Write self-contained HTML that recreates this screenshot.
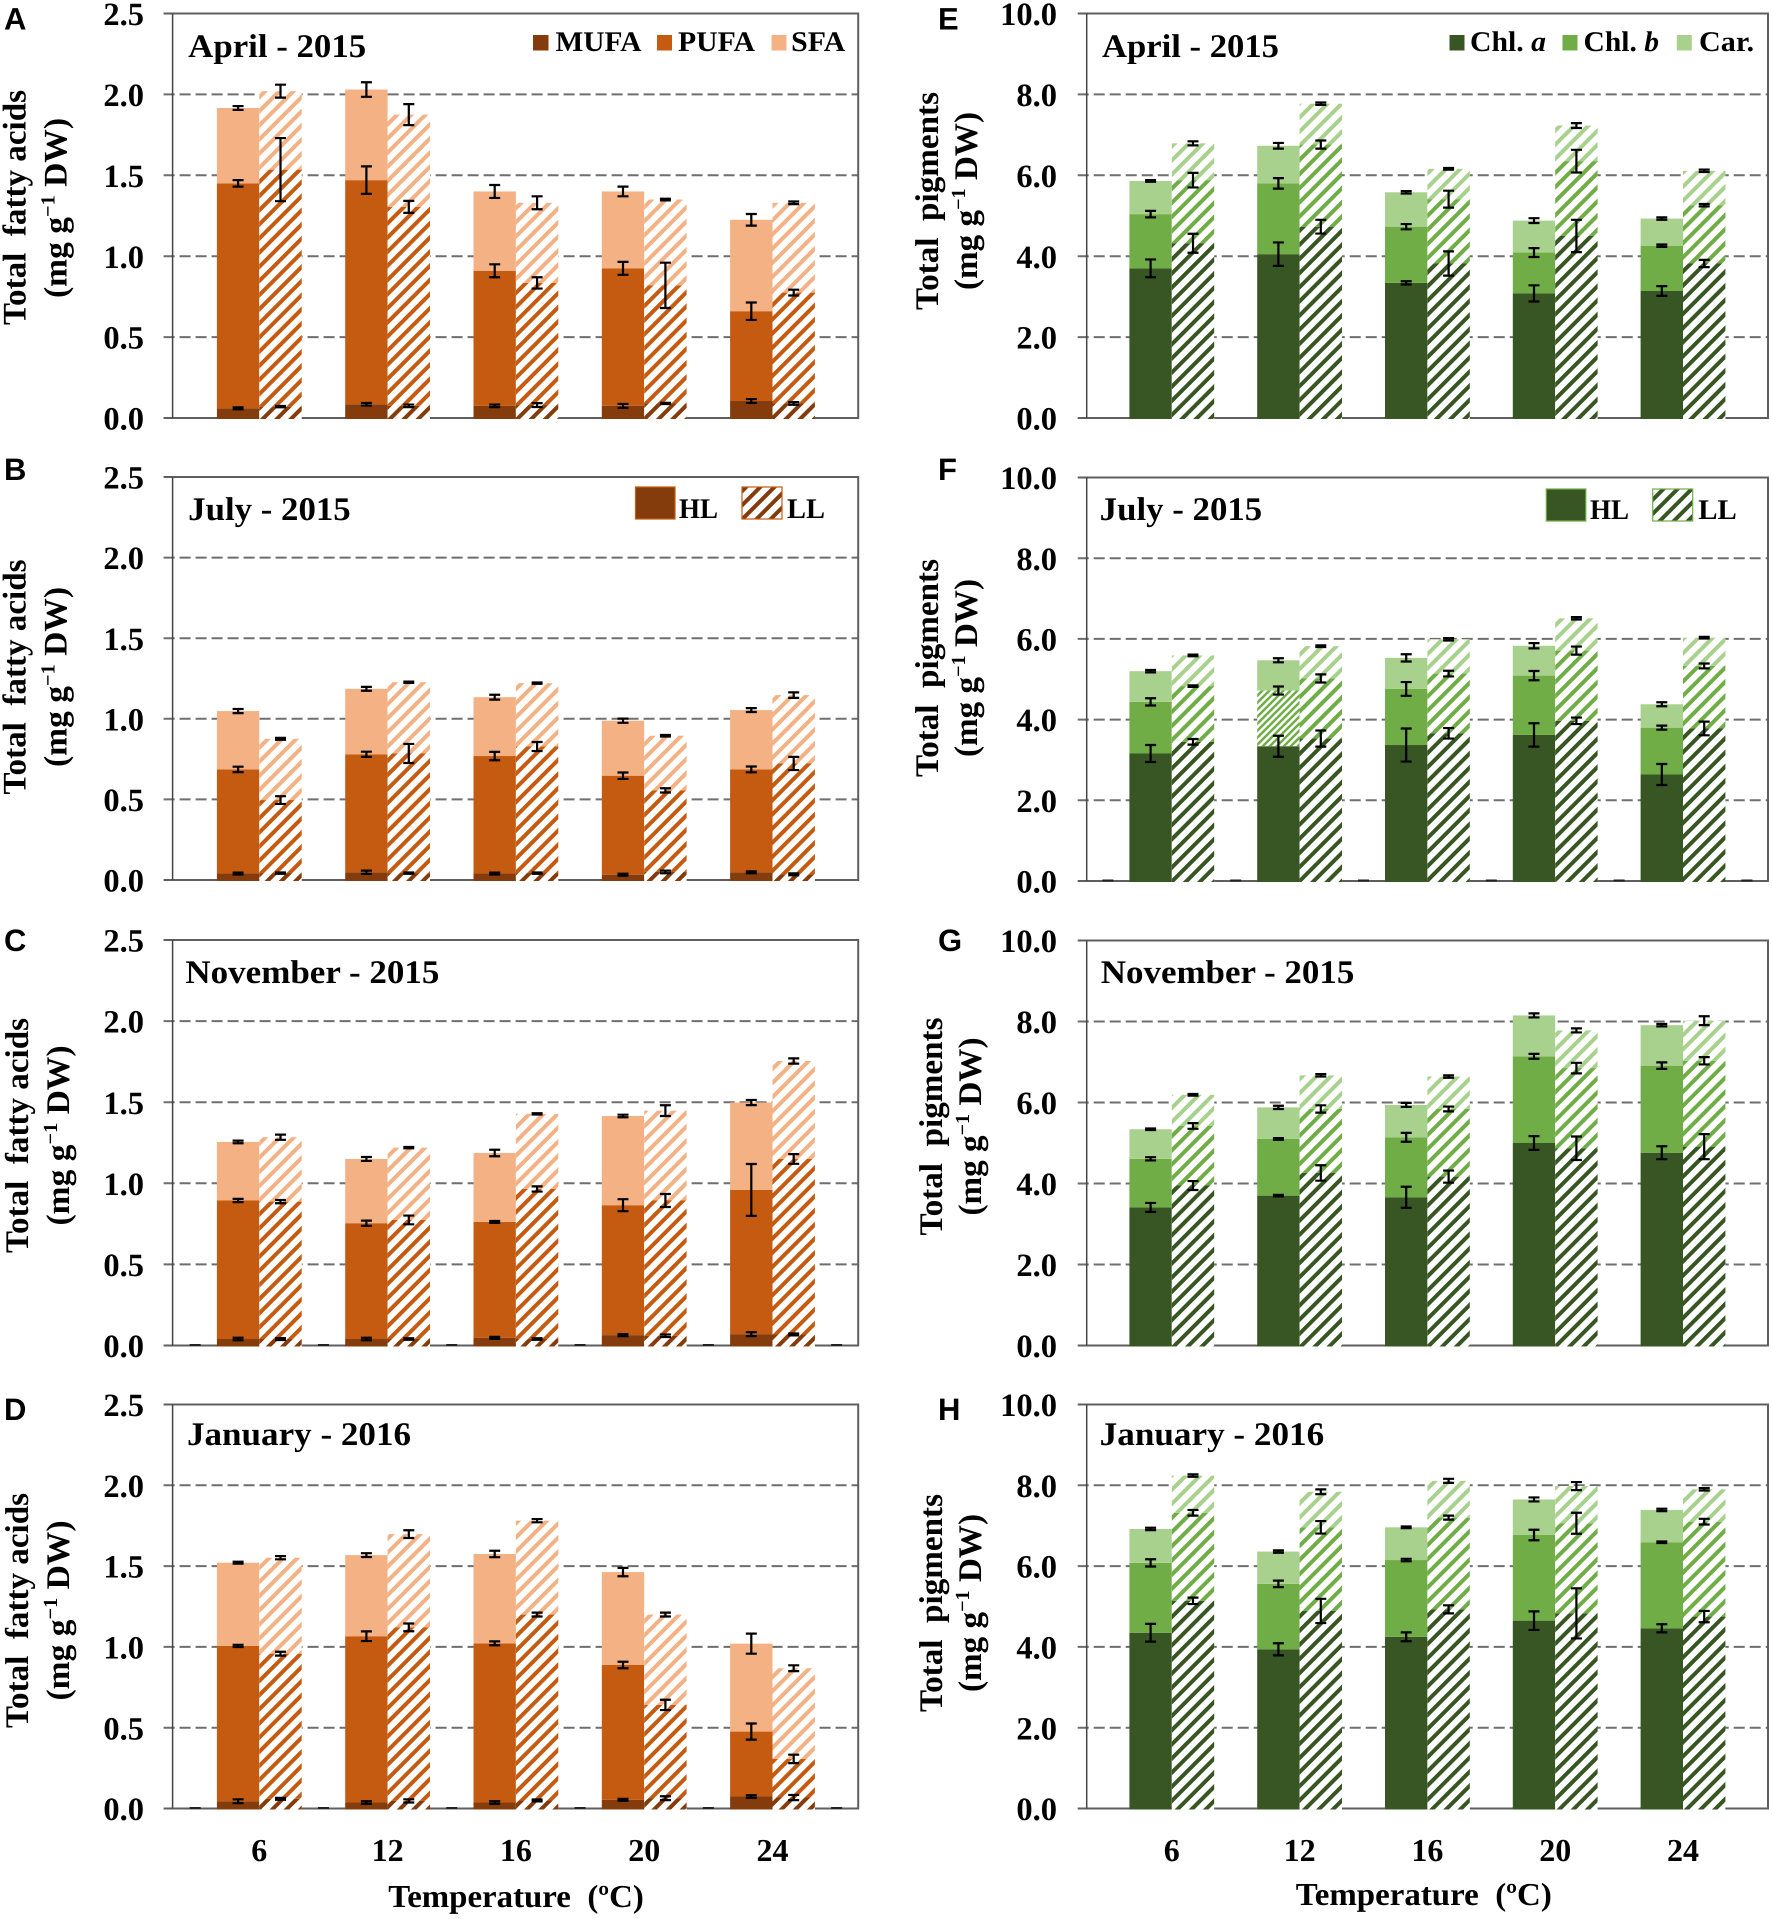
<!DOCTYPE html>
<html lang="en">
<head>
<meta charset="utf-8">
<title>Total fatty acids and pigments by temperature</title>
<style>
html,body{margin:0;padding:0;background:#fff;}
svg{display:block;}
text{font-family:"Liberation Serif",serif;font-weight:700;fill:#000;text-rendering:geometricPrecision;}
.letter{font-family:"Liberation Sans",sans-serif;font-size:31px;}
.title{font-size:33px;}
.leg{font-size:28.5px;}
.yl{font-size:33px;}
.xt{font-size:32px;}
</style>
</head>
<body>
<svg id="fig" xmlns="http://www.w3.org/2000/svg" width="1772" height="1919" viewBox="0 0 1772 1919">
<defs id="defs"></defs>

<g id="marks-a"></g>
<g id="marks-b"></g>
<g id="marks-c"></g>
<g id="marks-d"></g>
<g id="marks-e"></g>
<g id="marks-f"></g>
<g id="marks-g"></g>
<g id="marks-h"></g>

<!-- Panel letters -->
<text class="letter" x="4" y="29.5">A</text>
<text class="letter" x="4" y="480">B</text>
<text class="letter" x="4" y="951">C</text>
<text class="letter" x="4" y="1420">D</text>
<text class="letter" x="938" y="29.5">E</text>
<text class="letter" x="938" y="480">F</text>
<text class="letter" x="938" y="951">G</text>
<text class="letter" x="938" y="1420">H</text>

<!-- Panel titles -->
<text class="title" x="188.2" y="57" textLength="178" lengthAdjust="spacingAndGlyphs">April - 2015</text>
<text class="title" x="188.2" y="520" textLength="162.5" lengthAdjust="spacingAndGlyphs">July - 2015</text>
<text class="title" x="185.4" y="983" textLength="254" lengthAdjust="spacingAndGlyphs">November - 2015</text>
<text class="title" x="187" y="1445" textLength="224" lengthAdjust="spacingAndGlyphs">January - 2016</text>
<text class="title" x="1102" y="57" textLength="177" lengthAdjust="spacingAndGlyphs">April - 2015</text>
<text class="title" x="1099.7" y="520" textLength="162.5" lengthAdjust="spacingAndGlyphs">July - 2015</text>
<text class="title" x="1100.8" y="983" textLength="253.5" lengthAdjust="spacingAndGlyphs">November - 2015</text>
<text class="title" x="1099.7" y="1445" textLength="224.5" lengthAdjust="spacingAndGlyphs">January - 2016</text>

<!-- Y-axis titles, left column -->
<g>
<text class="yl" text-anchor="middle" xml:space="preserve" transform="translate(25.5,207.5) rotate(-90)" textLength="235" lengthAdjust="spacingAndGlyphs">Total  fatty acids</text>
<text class="yl" text-anchor="middle" xml:space="preserve" transform="translate(66.5,208) rotate(-90)" textLength="180" lengthAdjust="spacingAndGlyphs">(mg g<tspan font-size="20" dy="-12">−1</tspan><tspan dy="12"> DW)</tspan></text>
</g>
<g>
<text class="yl" text-anchor="middle" xml:space="preserve" transform="translate(25.5,677) rotate(-90)" textLength="235" lengthAdjust="spacingAndGlyphs">Total  fatty acids</text>
<text class="yl" text-anchor="middle" xml:space="preserve" transform="translate(66.5,677) rotate(-90)" textLength="180" lengthAdjust="spacingAndGlyphs">(mg g<tspan font-size="20" dy="-12">−1</tspan><tspan dy="12"> DW)</tspan></text>
</g>
<g>
<text class="yl" text-anchor="middle" xml:space="preserve" transform="translate(28,1135.5) rotate(-90)" textLength="235" lengthAdjust="spacingAndGlyphs">Total  fatty acids</text>
<text class="yl" text-anchor="middle" xml:space="preserve" transform="translate(69,1135.5) rotate(-90)" textLength="180" lengthAdjust="spacingAndGlyphs">(mg g<tspan font-size="20" dy="-12">−1</tspan><tspan dy="12"> DW)</tspan></text>
</g>
<g>
<text class="yl" text-anchor="middle" xml:space="preserve" transform="translate(28,1610.5) rotate(-90)" textLength="235" lengthAdjust="spacingAndGlyphs">Total  fatty acids</text>
<text class="yl" text-anchor="middle" xml:space="preserve" transform="translate(69,1610.5) rotate(-90)" textLength="180" lengthAdjust="spacingAndGlyphs">(mg g<tspan font-size="20" dy="-12">−1</tspan><tspan dy="12"> DW)</tspan></text>
</g>

<!-- Y-axis titles, right column -->
<g>
<text class="yl" text-anchor="middle" xml:space="preserve" transform="translate(938,201) rotate(-90)" textLength="218" lengthAdjust="spacingAndGlyphs">Total  pigments</text>
<text class="yl" text-anchor="middle" xml:space="preserve" transform="translate(977,201) rotate(-90)" textLength="178" lengthAdjust="spacingAndGlyphs">(mg g<tspan font-size="20" dy="-12">−1</tspan><tspan dy="12"> DW)</tspan></text>
</g>
<g>
<text class="yl" text-anchor="middle" xml:space="preserve" transform="translate(938,668) rotate(-90)" textLength="218" lengthAdjust="spacingAndGlyphs">Total  pigments</text>
<text class="yl" text-anchor="middle" xml:space="preserve" transform="translate(977,668) rotate(-90)" textLength="178" lengthAdjust="spacingAndGlyphs">(mg g<tspan font-size="20" dy="-12">−1</tspan><tspan dy="12"> DW)</tspan></text>
</g>
<g>
<text class="yl" text-anchor="middle" xml:space="preserve" transform="translate(942,1126.5) rotate(-90)" textLength="218" lengthAdjust="spacingAndGlyphs">Total  pigments</text>
<text class="yl" text-anchor="middle" xml:space="preserve" transform="translate(981,1126.5) rotate(-90)" textLength="178" lengthAdjust="spacingAndGlyphs">(mg g<tspan font-size="20" dy="-12">−1</tspan><tspan dy="12"> DW)</tspan></text>
</g>
<g>
<text class="yl" text-anchor="middle" xml:space="preserve" transform="translate(942,1603) rotate(-90)" textLength="218" lengthAdjust="spacingAndGlyphs">Total  pigments</text>
<text class="yl" text-anchor="middle" xml:space="preserve" transform="translate(981,1603) rotate(-90)" textLength="178" lengthAdjust="spacingAndGlyphs">(mg g<tspan font-size="20" dy="-12">−1</tspan><tspan dy="12"> DW)</tspan></text>
</g>

<!-- X-axis titles -->
<text class="xt" x="388.3" y="1907" xml:space="preserve" textLength="255.5" lengthAdjust="spacingAndGlyphs">Temperature  (ºC)</text>
<text class="xt" x="1295.8" y="1905" xml:space="preserve" textLength="256" lengthAdjust="spacingAndGlyphs">Temperature  (ºC)</text>

<!-- Legend, panel A -->
<g>
<rect x="533" y="35" width="15.5" height="15.5" fill="#843C0C"/>
<text class="leg" x="555.5" y="51" textLength="86" lengthAdjust="spacingAndGlyphs">MUFA</text>
<rect x="657" y="35" width="15" height="15.5" fill="#C55A11"/>
<text class="leg" x="678" y="51" textLength="77" lengthAdjust="spacingAndGlyphs">PUFA</text>
<rect x="771.5" y="35" width="15" height="15.5" fill="#F4B183"/>
<text class="leg" x="791.2" y="51" textLength="54" lengthAdjust="spacingAndGlyphs">SFA</text>
</g>

<!-- Legend, panel E -->
<g>
<rect x="1449.5" y="35" width="15" height="15.5" fill="#375623"/>
<text class="leg" x="1470" y="51" textLength="76" lengthAdjust="spacingAndGlyphs">Chl. <tspan font-style="italic">a</tspan></text>
<rect x="1562.5" y="35" width="15" height="15.5" fill="#70AD47"/>
<text class="leg" x="1583.5" y="51" textLength="75.5" lengthAdjust="spacingAndGlyphs">Chl. <tspan font-style="italic">b</tspan></text>
<rect x="1676.8" y="35" width="15" height="15.5" fill="#A9D18E"/>
<text class="leg" x="1699" y="51" textLength="55" lengthAdjust="spacingAndGlyphs">Car.</text>
</g>

<!-- Legend, panel B -->
<g>
<rect x="635.5" y="487" width="39.5" height="32" fill="#843C0C" stroke="#C55A11" stroke-width="1.2"/>
<text class="leg" x="679" y="518" textLength="39" lengthAdjust="spacingAndGlyphs">HL</text>
<rect x="742" y="487" width="40" height="32" fill="#fff"/>
<rect x="742" y="487" width="40" height="32" fill="url(#hatch-843C0C)" stroke="#C55A11" stroke-width="1.2"/>
<text class="leg" x="787" y="518" textLength="38" lengthAdjust="spacingAndGlyphs">LL</text>
</g>

<!-- Legend, panel F -->
<g>
<rect x="1546.3" y="489" width="39.5" height="32" fill="#375623" stroke="#70AD47" stroke-width="1.2"/>
<text class="leg" x="1590" y="519" textLength="39" lengthAdjust="spacingAndGlyphs">HL</text>
<rect x="1652.7" y="489" width="40" height="32" fill="#fff"/>
<rect x="1652.7" y="489" width="40" height="32" fill="url(#hatch-375623)" stroke="#70AD47" stroke-width="1.2"/>
<text class="leg" x="1698.3" y="519" textLength="38.5" lengthAdjust="spacingAndGlyphs">LL</text>
</g>
</svg>

<script>
// Shared axis labels
const CATEGORIES = ['6', '12', '16', '20', '24'];
const FA_TICKS = ['0.0', '0.5', '1.0', '1.5', '2.0', '2.5'];
const PIG_TICKS = ['0.0', '2.0', '4.0', '6.0', '8.0', '10.0'];

// Panel A: April 2015, fatty acids
const A_HL_MUFA = [0.06, 0.085, 0.075, 0.075, 0.105];
const A_HL_PUFA = [1.39, 1.385, 0.835, 0.85, 0.555];
const A_HL_SFA = [0.466, 0.56, 0.49, 0.475, 0.565];
const A_LL_MUFA = [0.07, 0.075, 0.08, 0.09, 0.09];
const A_LL_PUFA = [1.465, 1.23, 0.755, 0.73, 0.685];
const A_LL_SFA = [0.485, 0.57, 0.495, 0.53, 0.555];
const A_HL_MUFA_ERR = [0.006, 0.008, 0.008, 0.012, 0.012];
const A_HL_PUFA_ERR = [0.02, 0.085, 0.04, 0.04, 0.054];
const A_HL_SFA_ERR = [0.012, 0.045, 0.04, 0.03, 0.036];
const A_LL_MUFA_ERR = [0.004, 0.008, 0.012, 0.004, 0.008];
const A_LL_PUFA_ERR = [0.195, 0.037, 0.035, 0.14, 0.018];
const A_LL_SFA_ERR = [0.04, 0.065, 0.04, 0.005, 0.008];

// Panel B: July 2015, fatty acids
const B_HL_MUFA = [0.04, 0.048, 0.04, 0.033, 0.048];
const B_HL_PUFA = [0.646, 0.732, 0.729, 0.614, 0.638];
const B_HL_SFA = [0.362, 0.406, 0.365, 0.341, 0.368];
const B_LL_MUFA = [0.043, 0.043, 0.043, 0.05, 0.035];
const B_LL_PUFA = [0.453, 0.742, 0.785, 0.506, 0.688];
const B_LL_SFA = [0.38, 0.442, 0.393, 0.339, 0.424];
const B_HL_MUFA_ERR = [0.006, 0.01, 0.006, 0.006, 0.006];
const B_HL_PUFA_ERR = [0.017, 0.016, 0.026, 0.02, 0.018];
const B_HL_SFA_ERR = [0.013, 0.012, 0.015, 0.013, 0.012];
const B_LL_MUFA_ERR = [0.004, 0.004, 0.004, 0.008, 0.006];
const B_LL_PUFA_ERR = [0.024, 0.059, 0.028, 0.013, 0.041];
const B_LL_SFA_ERR = [0.006, 0.004, 0.004, 0.005, 0.017];

// Panel C: November 2015, fatty acids
const C_HL_MUFA = [0.04, 0.04, 0.047, 0.064, 0.07];
const C_HL_PUFA = [0.854, 0.714, 0.715, 0.801, 0.889];
const C_HL_SFA = [0.361, 0.396, 0.425, 0.55, 0.539];
const C_LL_MUFA = [0.04, 0.04, 0.04, 0.06, 0.068];
const C_LL_PUFA = [0.847, 0.734, 0.925, 0.834, 1.082];
const C_LL_SFA = [0.397, 0.446, 0.463, 0.554, 0.604];
const C_HL_MUFA_ERR = [0.008, 0.008, 0.006, 0.006, 0.012];
const C_HL_PUFA_ERR = [0.01, 0.016, 0.006, 0.037, 0.16];
const C_HL_SFA_ERR = [0.008, 0.012, 0.02, 0.008, 0.016];
const C_LL_MUFA_ERR = [0.006, 0.005, 0.005, 0.008, 0.006];
const C_LL_PUFA_ERR = [0.01, 0.027, 0.016, 0.04, 0.03];
const C_LL_SFA_ERR = [0.016, 0.004, 0.004, 0.033, 0.016];

// Panel D: January 2016, fatty acids
const D_HL_MUFA = [0.045, 0.037, 0.037, 0.054, 0.074];
const D_HL_PUFA = [0.961, 1.029, 0.985, 0.834, 0.402];
const D_HL_SFA = [0.515, 0.502, 0.553, 0.575, 0.544];
const D_LL_MUFA = [0.06, 0.047, 0.05, 0.064, 0.068];
const D_LL_PUFA = [0.898, 1.074, 1.15, 0.577, 0.239];
const D_LL_SFA = [0.594, 0.577, 0.581, 0.559, 0.561];
const D_HL_MUFA_ERR = [0.012, 0.008, 0.008, 0.006, 0.008];
const D_HL_PUFA_ERR = [0.007, 0.03, 0.012, 0.02, 0.05];
const D_HL_SFA_ERR = [0.006, 0.012, 0.02, 0.026, 0.062];
const D_LL_MUFA_ERR = [0.006, 0.01, 0.006, 0.012, 0.016];
const D_LL_PUFA_ERR = [0.012, 0.024, 0.012, 0.032, 0.026];
const D_LL_SFA_ERR = [0.01, 0.024, 0.01, 0.012, 0.018];

// Panel E: April 2015, pigments
const E_HL_CHLA = [3.70, 4.05, 3.34, 3.08, 3.14];
const E_HL_CHLB = [1.34, 1.75, 1.39, 1.01, 1.12];
const E_HL_CAR = [0.82, 0.93, 0.85, 0.79, 0.67];
const E_LL_CHLA = [4.32, 4.73, 3.82, 4.5, 3.82];
const E_LL_CHLB = [1.56, 2.03, 1.59, 1.85, 1.44];
const E_LL_CAR = [0.91, 1.01, 0.75, 0.88, 0.85];
const E_HL_CHLA_ERR = [0.22, 0.29, 0.04, 0.2, 0.12];
const E_HL_CHLB_ERR = [0.08, 0.13, 0.065, 0.11, 0.03];
const E_HL_CAR_ERR = [0.02, 0.07, 0.03, 0.06, 0.03];
const E_LL_CHLA_ERR = [0.235, 0.17, 0.3, 0.4, 0.09];
const E_LL_CHLB_ERR = [0.18, 0.1, 0.21, 0.28, 0.03];
const E_LL_CAR_ERR = [0.05, 0.03, 0.02, 0.06, 0.03];

// Panel F: July 2015, pigments
const F_HL_CHLA = [3.16, 3.34, 3.37, 3.62, 2.64];
const F_HL_CHLB = [1.28, 1.38, 1.39, 1.47, 1.16];
const F_HL_CAR = [0.76, 0.75, 0.77, 0.74, 0.58];
const F_LL_CHLA = [3.45, 3.53, 3.66, 3.97, 3.78];
const F_LL_CHLB = [1.38, 1.49, 1.48, 1.74, 1.55];
const F_LL_CAR = [0.76, 0.80, 0.85, 0.80, 0.70];
const F_HL_CHLA_ERR = [0.21, 0.26, 0.41, 0.29, 0.26];
const F_HL_CHLB_ERR = [0.09, 0.1, 0.17, 0.115, 0.05];
const F_HL_CAR_ERR = [0.03, 0.05, 0.09, 0.065, 0.05];
const F_LL_CHLA_ERR = [0.07, 0.2, 0.13, 0.08, 0.17];
const F_LL_CHLB_ERR = [0.02, 0.1, 0.07, 0.1, 0.06];
const F_LL_CAR_ERR = [0.02, 0.02, 0.03, 0.03, 0.02];

// Panel G: November 2015, pigments
const G_HL_CHLA = [3.41, 3.70, 3.66, 5.0, 4.76];
const G_HL_CHLB = [1.20, 1.40, 1.48, 2.14, 2.15];
const G_HL_CAR = [0.73, 0.78, 0.80, 1.01, 1.0];
const G_LL_CHLA = [3.95, 4.26, 4.17, 4.87, 4.91];
const G_LL_CHLB = [1.47, 1.58, 1.67, 1.98, 2.12];
const G_LL_CAR = [0.77, 0.83, 0.80, 0.93, 0.99];
const G_HL_CHLA_ERR = [0.11, 0.02, 0.26, 0.17, 0.16];
const G_HL_CHLB_ERR = [0.04, 0.02, 0.11, 0.06, 0.08];
const G_HL_CAR_ERR = [0.02, 0.04, 0.05, 0.05, 0.03];
const G_LL_CHLA_ERR = [0.11, 0.19, 0.15, 0.29, 0.31];
const G_LL_CHLB_ERR = [0.07, 0.09, 0.06, 0.13, 0.09];
const G_LL_CAR_ERR = [0.02, 0.03, 0.03, 0.05, 0.11];

// Panel H: January 2016, pigments
const H_HL_CHLA = [4.35, 3.94, 4.25, 4.65, 4.46];
const H_HL_CHLB = [1.73, 1.62, 1.90, 2.12, 2.13];
const H_HL_CAR = [0.84, 0.80, 0.81, 0.88, 0.80];
const H_LL_CHLA = [5.14, 4.89, 4.93, 4.83, 4.75];
const H_LL_CHLB = [2.18, 2.07, 2.27, 2.23, 2.35];
const H_LL_CAR = [0.92, 0.88, 0.91, 0.92, 0.80];
const H_HL_CHLA_ERR = [0.22, 0.15, 0.11, 0.23, 0.1];
const H_HL_CHLB_ERR = [0.09, 0.08, 0.03, 0.13, 0.02];
const H_HL_CAR_ERR = [0.03, 0.03, 0.02, 0.05, 0.03];
const H_LL_CHLA_ERR = [0.08, 0.3, 0.1, 0.62, 0.14];
const H_LL_CHLB_ERR = [0.07, 0.155, 0.05, 0.26, 0.07];
const H_LL_CAR_ERR = [0.03, 0.06, 0.05, 0.1, 0.03];

const NS = 'http://www.w3.org/2000/svg';
const ORANGE = ['#843C0C', '#C55A11', '#F4B183'];
const GREEN = ['#375623', '#70AD47', '#A9D18E'];
const FA_NAMES = ['mufa', 'pufa', 'sfa'];
const PIG_NAMES = ['chl-a', 'chl-b', 'car'];

function make(tag, attrs, parent) {
  const el = document.createElementNS(NS, tag);
  for (const k in attrs) el.setAttribute(k, attrs[k]);
  parent.appendChild(el);
  return el;
}

function addPattern(id, color, period, stripe) {
  const defs = document.getElementById('defs');
  const p = make('pattern', { id: id, patternUnits: 'userSpaceOnUse', width: period, height: period, patternTransform: 'rotate(45)' }, defs);
  make('rect', { x: 0, y: 0, width: stripe, height: period, fill: color }, p);
}
ORANGE.concat(GREEN).forEach(function (c) {
  addPattern('hatch-' + c.slice(1), c, 10, 4);
});

// Finer hatch used by one bar segment, drawn as an unrotated diagonal tile
(function () {
  const defs = document.getElementById('defs');
  const p = make('pattern', { id: 'fine-hatch', patternUnits: 'userSpaceOnUse', width: 7, height: 7 }, defs);
  make('path', { d: 'M-1 1L1 -1M0 7L7 0M6 8L8 6', stroke: '#70AD47', 'stroke-width': 2.5, fill: 'none' }, p);
})();

function drawPanel(cfg) {
  const g = document.getElementById('marks-' + cfg.id);
  const yScale = function (v) { return cfg.bottom - v / cfg.max * (cfg.bottom - cfg.top); };
  const xCenter = function (i) { return cfg.firstCenter + i * cfg.step; };
  const barW = 42.4;
  const tickX = cfg.left - 9;

  // Gridlines, ticks and tick labels
  cfg.ticks.forEach(function (label) {
    const v = parseFloat(label);
    const y = yScale(v);
    const isEdge = v === 0 || v === cfg.max;
    if (!isEdge) {
      const line = make('line', { x1: tickX, x2: cfg.right, y1: y, y2: y, stroke: '#6e6e6e', 'stroke-width': 2, 'stroke-dasharray': '11 5' }, g);
      
      
    }
    const t = make('text', { x: cfg.labelX, y: y + 11.6, 'text-anchor': 'end', 'font-size': 32.5 }, g);
    t.textContent = label;
    
    
  });

  // Plot frame
  const frame = make('path', {
    d: 'M' + tickX + ' ' + cfg.top + 'H' + cfg.right + 'V' + cfg.bottom + 'H' + tickX,
    fill: 'none', stroke: '#5f5f5f', 'stroke-width': 2
  }, g);
  
  
  const yAxis = make('line', { x1: cfg.left, x2: cfg.left, y1: cfg.top, y2: cfg.bottom, stroke: '#444', 'stroke-width': 1.5 }, g);
  
  

  // Stacked bars
  const errs = [];
  [['hl', cfg.hl, cfg.hlErr], ['ll', cfg.ll, cfg.llErr]].forEach(function (grp, gi) {
    const series = grp[1];
    const seriesErr = grp[2];
    CATEGORIES.forEach(function (cat, i) {
      const x = xCenter(i) + (gi === 0 ? -barW : 0);
      let total = 0;
      if (gi === 1) {
        let sum = 0;
        series.forEach(function (s) { sum += s[i]; });
        const bg = make('rect', { x: x, y: yScale(sum), width: barW, height: yScale(0) - yScale(sum) + 1, fill: '#fff' }, g);
        
        
      }
      series.forEach(function (s, si) {
        const y0 = yScale(total);
        total += s[i];
        const y1 = yScale(total);
        let fill = gi === 0 ? cfg.colors[si] : 'url(#hatch-' + cfg.colors[si].slice(1) + ')';
        if (gi === 0 && cfg.fineHatch && cfg.fineHatch[0] === i && cfg.fineHatch[1] === si) {
          fill = 'url(#fine-hatch)';
          const fb = make('rect', { x: x, y: y1, width: barW, height: y0 - y1, fill: '#fff' }, g);
          
          
        }
        const r = make('rect', { x: x, y: y1, width: barW, height: y0 - y1 + (si === 0 ? 1 : 0), fill: fill }, g);
        
        
        errs.push({ cx: x + barW / 2, v: total, e: seriesErr[si][i], label: cfg.id + '-' + grp[0] + '-' + cfg.names[si] + '-' + cat });
      });
    });
  });

  // Error bars on top of every bar
  errs.forEach(function (d) {
    const yHi = yScale(d.v + d.e);
    const yLo = yScale(d.v - d.e);
    const eb = make('path', {
      d: 'M' + (d.cx - 5.5) + ' ' + yHi + 'H' + (d.cx + 5.5) + 'M' + d.cx + ' ' + yHi + 'V' + yLo + 'M' + (d.cx - 5.5) + ' ' + yLo + 'H' + (d.cx + 5.5),
      fill: 'none', stroke: '#000', 'stroke-width': 2.2
    }, g);
    
    
  });

  // Zero-value caps of the empty spacer categories
  if (cfg.spacerCaps) {
    for (let i = 0; i <= CATEGORIES.length; i++) {
      const cx = xCenter(i) - cfg.step / 2;
      const cap = make('line', { x1: cx - 5.5, x2: cx + 5.5, y1: yScale(0) - 0.5, y2: yScale(0) - 0.5, stroke: '#222', 'stroke-width': 2 }, g);
      
      
    }
  }

  // Category labels on bottom panels
  if (cfg.xLabels) {
    CATEGORIES.forEach(function (cat, i) {
      const t = make('text', { x: xCenter(i), y: cfg.xLabelY, 'text-anchor': 'middle', 'font-size': 32 }, g);
      t.textContent = cat;
      
      
    });
  }
}

const LEFT_COL = { left: 172.6, right: 858.2, labelX: 144, firstCenter: 259.3, step: 128.3, max: 2.5, ticks: FA_TICKS, colors: ORANGE, names: FA_NAMES };
const RIGHT_COL = { left: 1086.7, right: 1768, labelX: 1057, firstCenter: 1171.8, step: 127.8, max: 10, ticks: PIG_TICKS, colors: GREEN, names: PIG_NAMES };

drawPanel(Object.assign({}, LEFT_COL, { id: 'a', top: 13.5, bottom: 418,
  hl: [A_HL_MUFA, A_HL_PUFA, A_HL_SFA], ll: [A_LL_MUFA, A_LL_PUFA, A_LL_SFA],
  hlErr: [A_HL_MUFA_ERR, A_HL_PUFA_ERR, A_HL_SFA_ERR], llErr: [A_LL_MUFA_ERR, A_LL_PUFA_ERR, A_LL_SFA_ERR] }));
drawPanel(Object.assign({}, LEFT_COL, { id: 'b', top: 477, bottom: 880,
  hl: [B_HL_MUFA, B_HL_PUFA, B_HL_SFA], ll: [B_LL_MUFA, B_LL_PUFA, B_LL_SFA],
  hlErr: [B_HL_MUFA_ERR, B_HL_PUFA_ERR, B_HL_SFA_ERR], llErr: [B_LL_MUFA_ERR, B_LL_PUFA_ERR, B_LL_SFA_ERR] }));
drawPanel(Object.assign({}, LEFT_COL, { id: 'c', top: 940, bottom: 1345.5, spacerCaps: true,
  hl: [C_HL_MUFA, C_HL_PUFA, C_HL_SFA], ll: [C_LL_MUFA, C_LL_PUFA, C_LL_SFA],
  hlErr: [C_HL_MUFA_ERR, C_HL_PUFA_ERR, C_HL_SFA_ERR], llErr: [C_LL_MUFA_ERR, C_LL_PUFA_ERR, C_LL_SFA_ERR] }));
drawPanel(Object.assign({}, LEFT_COL, { id: 'd', top: 1404.5, bottom: 1808.5, spacerCaps: true, xLabels: true, xLabelY: 1861,
  hl: [D_HL_MUFA, D_HL_PUFA, D_HL_SFA], ll: [D_LL_MUFA, D_LL_PUFA, D_LL_SFA],
  hlErr: [D_HL_MUFA_ERR, D_HL_PUFA_ERR, D_HL_SFA_ERR], llErr: [D_LL_MUFA_ERR, D_LL_PUFA_ERR, D_LL_SFA_ERR] }));
drawPanel(Object.assign({}, RIGHT_COL, { id: 'e', top: 13.5, bottom: 418,
  hl: [E_HL_CHLA, E_HL_CHLB, E_HL_CAR], ll: [E_LL_CHLA, E_LL_CHLB, E_LL_CAR],
  hlErr: [E_HL_CHLA_ERR, E_HL_CHLB_ERR, E_HL_CAR_ERR], llErr: [E_LL_CHLA_ERR, E_LL_CHLB_ERR, E_LL_CAR_ERR] }));
drawPanel(Object.assign({}, RIGHT_COL, { id: 'f', top: 477.5, bottom: 881, spacerCaps: true, fineHatch: [1, 1],
  hl: [F_HL_CHLA, F_HL_CHLB, F_HL_CAR], ll: [F_LL_CHLA, F_LL_CHLB, F_LL_CAR],
  hlErr: [F_HL_CHLA_ERR, F_HL_CHLB_ERR, F_HL_CAR_ERR], llErr: [F_LL_CHLA_ERR, F_LL_CHLB_ERR, F_LL_CAR_ERR] }));
drawPanel(Object.assign({}, RIGHT_COL, { id: 'g', top: 940.5, bottom: 1345.5,
  hl: [G_HL_CHLA, G_HL_CHLB, G_HL_CAR], ll: [G_LL_CHLA, G_LL_CHLB, G_LL_CAR],
  hlErr: [G_HL_CHLA_ERR, G_HL_CHLB_ERR, G_HL_CAR_ERR], llErr: [G_LL_CHLA_ERR, G_LL_CHLB_ERR, G_LL_CAR_ERR] }));
drawPanel(Object.assign({}, RIGHT_COL, { id: 'h', top: 1404.5, bottom: 1808.5, xLabels: true, xLabelY: 1861,
  hl: [H_HL_CHLA, H_HL_CHLB, H_HL_CAR], ll: [H_LL_CHLA, H_LL_CHLB, H_LL_CAR],
  hlErr: [H_HL_CHLA_ERR, H_HL_CHLB_ERR, H_HL_CAR_ERR], llErr: [H_LL_CHLA_ERR, H_LL_CHLB_ERR, H_LL_CAR_ERR] }));
</script>
</body>
</html>
